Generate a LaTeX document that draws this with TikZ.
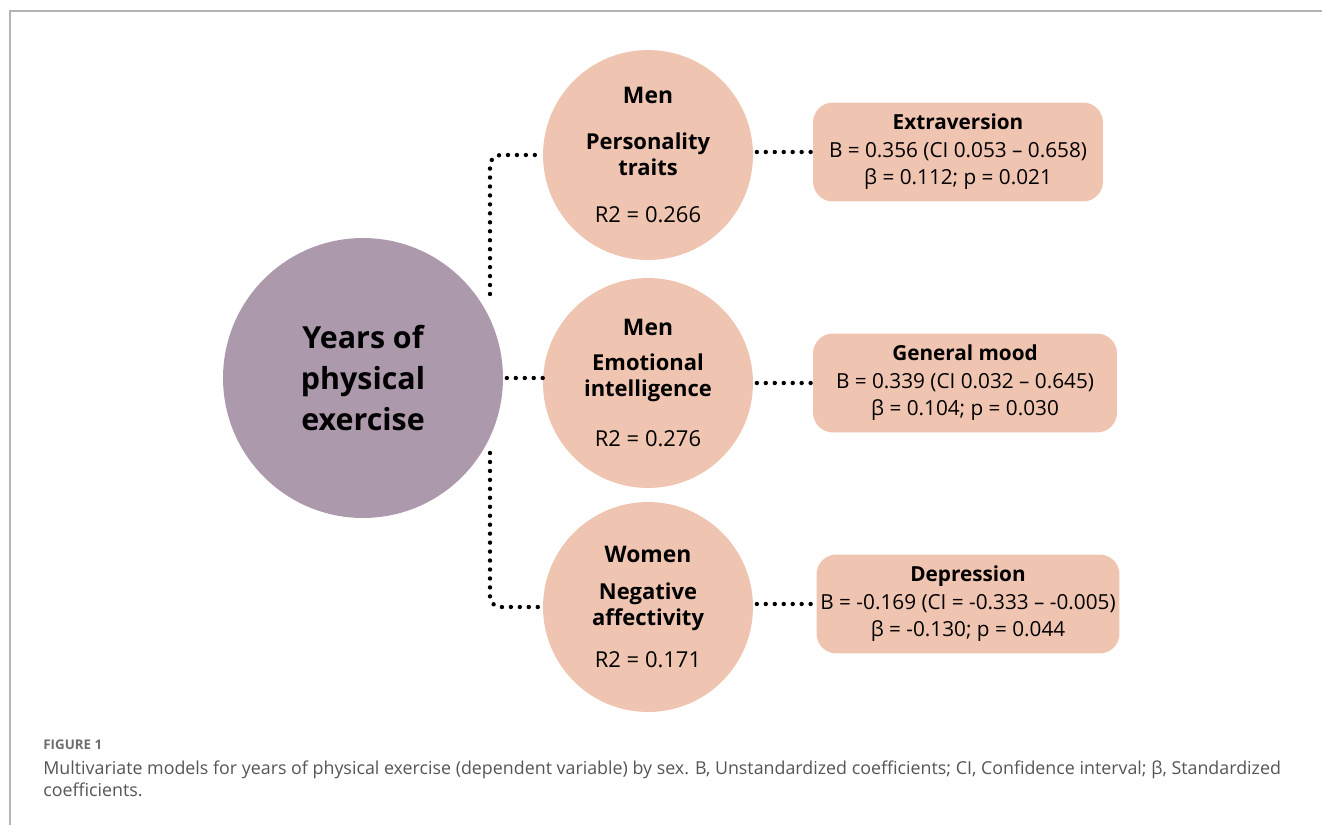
\documentclass[tikz,border=0pt]{standalone}
\usepackage{fontspec}
\setmainfont{Open Sans}
\usetikzlibrary{positioning}
\definecolor{mauve}{HTML}{AD99AC}
\definecolor{peach}{HTML}{EFC4B1}
\definecolor{capgray}{HTML}{555555}
\definecolor{framegray}{HTML}{B4B4B4}

\begin{document}
\begin{tikzpicture}[
    x=0.02cm, y=-0.02cm,
    outcome/.style={circle, fill=mauve, minimum size=5.6cm, inner sep=0pt, align=center,
                    font=\fontsize{17.3}{23.6}\selectfont\bfseries},
    model/.style={circle, fill=peach, minimum size=4.2cm, inner sep=0pt, align=center,
                  font=\fontsize{12.5}{14.8}\selectfont},
    coef/.style={rounded corners=0.4cm, fill=peach, minimum height=1.98cm,
                 align=center, inner sep=0pt, font=\fontsize{11.8}{15.7}\selectfont},
    dotline/.style={line width=2.5pt, line cap=round, dash pattern=on 0pt off 5.1pt},
    captxt/.style={anchor=north west, inner sep=0pt, align=left, text=capgray},
]
\useasboundingbox (0,0) rectangle (1322,825);

% frame of the figure
\draw[framegray, line width=0.6pt] (1322,11) -- (10,11) -- (10,825);

% outcome
\node[outcome] (years) at (363,378) {Years of\\physical\\exercise};

% models
\node[model] (pers) at (648,155)
    {\fontsize{13}{14.8}\selectfont\bfseries Men\\[11pt]
     \bfseries Personality\\\bfseries traits\\[12pt] R2 = 0.266};
\node[model] (emot) at (648,383)
    {\fontsize{13}{14.8}\selectfont\bfseries Men\\[5pt]
     \bfseries Emotional\\\bfseries intelligence\\[14pt] R2 = 0.276};
\node[model] (neg) at (648,607)
    {\fontsize{13}{14.8}\selectfont\bfseries Women\\[6pt]
     \bfseries Negative\\\bfseries affectivity\\[9pt] R2 = 0.171};

% coefficients
\node[coef, minimum width=5.8cm] (extra) at (958,152)
    {{\bfseries Extraversion}\\B = 0.356 (CI 0.053 – 0.658)\\β = 0.112; p = 0.021};
\node[coef, minimum width=6.08cm] (mood) at (965,383)
    {{\bfseries General mood}\\B = 0.339 (CI 0.032 – 0.645)\\β = 0.104; p = 0.030};
\node[coef, minimum width=6.06cm] (depr) at (968,604)
    {{\bfseries Depression}\\B = -0.169 (CI = -0.333 – -0.005)\\β = -0.130; p = 0.044};

% connectors
\coordinate (topstart) at (490,294);
\coordinate (botstart) at (490,453);
\draw[dotline, rounded corners=6pt] (topstart) |- (pers.west);
\draw[dotline] ([xshift=2pt]years.east) -- ([xshift=2pt]years.east -| emot.west);
\draw[dotline, rounded corners=6pt] (botstart) |- (neg.west);

\draw[dotline] ([xshift=2pt]pers.east |- extra.west) -- (extra.west);
\draw[dotline] ([xshift=2pt]emot.east |- mood.west) -- (mood.west);
\draw[dotline] ([xshift=2pt]neg.east |- depr.west) -- (depr.west);

% caption
\node[captxt, text=capgray!85, font=\fontsize{7.6}{8}\selectfont\bfseries] (fig) at (43,739) {FIGURE 1};
\node[captxt, font=\fontsize{10.15}{12.6}\selectfont] (capt) at (43,760)
    {Multivariate models for years of physical exercise (dependent variable) by sex. B, Unstandardized coefficients; CI, Confidence interval; β, Standardized\\coefficients.};
\end{tikzpicture}
\end{document}
